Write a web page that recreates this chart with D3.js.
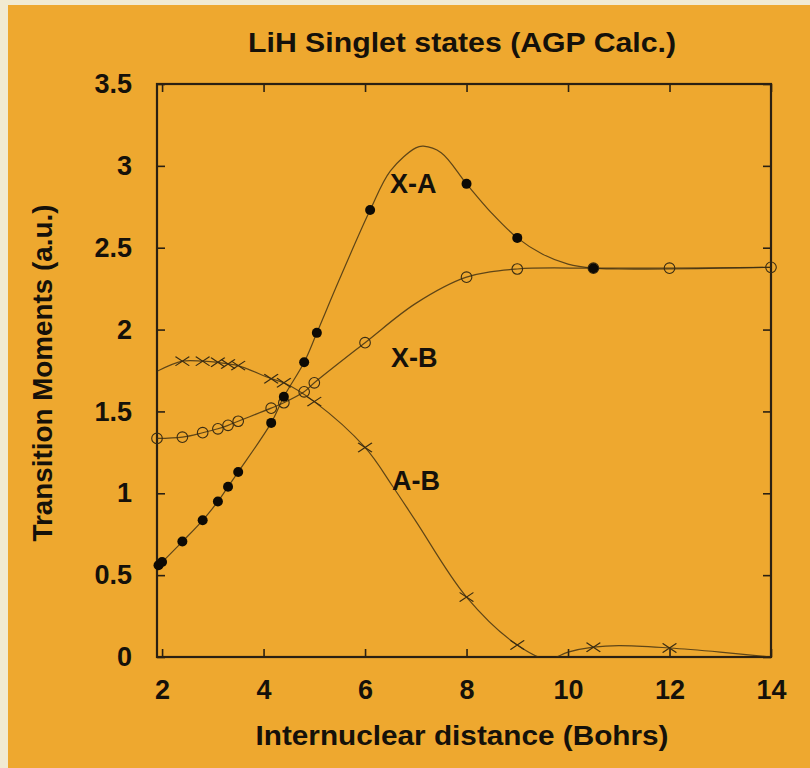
<!DOCTYPE html>
<html>
<head>
<meta charset="utf-8">
<script src="https://cdn.jsdelivr.net/npm/d3@7"></script>
<style>
    body { margin: 0; background: #f1ead2; }
    svg text {
        font-family: "Liberation Sans", Arial, Helvetica, sans-serif;
        font-weight: bold;
        fill: #15110a;
    }
</style>
</head>
<body>
<svg id="chart"></svg>
<script>
// tick values
const xTicks = [2, 4, 6, 8, 10, 12, 14];
const yTicks = [0, 0.5, 1, 1.5, 2, 2.5, 3, 3.5];

// X-A (filled circles)
const xaX = [1.93, 2.0, 2.4, 2.8, 3.1, 3.3, 3.5, 4.15, 4.4, 4.8, 5.05, 6.1, 8.0, 9.0, 10.5];
const xaY = [0.56, 0.58, 0.705, 0.835, 0.95, 1.04, 1.13, 1.43, 1.59, 1.80, 1.98, 2.73, 2.89, 2.56, 2.375];
// X-A fitted curve
const xaCurveX = [1.93, 2.0, 2.4, 2.8, 3.1, 3.3, 3.5, 4.15, 4.4, 4.8, 5.05, 5.5, 6.1, 6.5, 7.0, 7.15, 7.5, 8.0, 8.5, 9.0, 9.5, 10.0, 10.5, 11.0, 12.0, 13.0, 14.0];
const xaCurveY = [0.56, 0.58, 0.705, 0.835, 0.95, 1.04, 1.13, 1.43, 1.59, 1.80, 1.98, 2.31, 2.73, 2.97, 3.11, 3.12, 3.08, 2.89, 2.71, 2.56, 2.46, 2.40, 2.375, 2.37, 2.37, 2.375, 2.38];

// X-B (open circles)
const xbX = [1.9, 2.4, 2.8, 3.1, 3.3, 3.5, 4.15, 4.4, 4.8, 5.0, 6.0, 8.0, 9.0, 10.5, 12.0, 14.0];
const xbY = [1.335, 1.343, 1.37, 1.394, 1.415, 1.44, 1.52, 1.553, 1.62, 1.675, 1.92, 2.32, 2.37, 2.375, 2.375, 2.38];
const xbCurveX = [1.9, 2.4, 2.8, 3.1, 3.3, 3.5, 4.15, 4.4, 4.8, 5.0, 6.0, 7.0, 8.0, 9.0, 10.5, 12.0, 14.0];
const xbCurveY = [1.335, 1.343, 1.37, 1.394, 1.415, 1.44, 1.52, 1.553, 1.62, 1.675, 1.92, 2.16, 2.32, 2.37, 2.375, 2.375, 2.38];

// A-B (crosses)
const abX = [2.4, 2.8, 3.1, 3.3, 3.5, 4.15, 4.4, 5.0, 6.0, 8.0, 9.0, 10.5, 12.0];
const abY = [1.807, 1.807, 1.80, 1.79, 1.78, 1.70, 1.675, 1.56, 1.28, 0.366, 0.073, 0.06, 0.055];
const abCurveX = [1.9, 2.4, 2.8, 3.1, 3.3, 3.5, 4.15, 4.4, 5.0, 6.0, 6.55, 7.0, 8.0, 9.0, 9.6, 10.0, 10.5, 11.0, 12.0, 13.0, 14.0];
const abCurveY = [1.745, 1.807, 1.807, 1.80, 1.79, 1.78, 1.70, 1.675, 1.56, 1.28, 1.04, 0.83, 0.366, 0.073, -0.015, 0.03, 0.06, 0.07, 0.055, 0.03, 0.0];

const seriesLabels = [
    { text: "X-A", x: 390, y: 193 },
    { text: "X-B", x: 391, y: 367 },
    { text: "A-B", x: 392, y: 490 },
];

const zip = (xs, ys) => xs.map((x, i) => [x, ys[i]]);

class TransitionChart {

    constructor(_config) {
        this.config = {
            parentElement: _config.parentElement,
            containerWidth: 810,
            containerHeight: 768,
            margin: { top: 84, right: 39, bottom: 111, left: 157 },
        };
        this.initVis();
    }

    initVis() {
        const cfg = this.config;
        this.width = cfg.containerWidth - cfg.margin.left - cfg.margin.right;
        this.height = cfg.containerHeight - cfg.margin.top - cfg.margin.bottom;

        this.svg = d3.select(cfg.parentElement)
            .attr("width", cfg.containerWidth)
            .attr("height", cfg.containerHeight);

        // cream paper + orange panel
        this.svg.append("rect")
            .attr("width", cfg.containerWidth).attr("height", cfg.containerHeight)
            .attr("fill", "#f1ead2");
        this.svg.append("rect")
            .attr("x", 8).attr("y", 5)
            .attr("width", cfg.containerWidth - 8).attr("height", cfg.containerHeight - 5)
            .attr("fill", "#eea82f");

        this.chart = this.svg.append("g")
            .attr("transform", `translate(${cfg.margin.left}, ${cfg.margin.top})`);

        this.xScale = d3.scaleLinear().domain([1.9, 14]).range([0, this.width]);
        this.yScale = d3.scaleLinear().domain([0, 3.5]).range([this.height, 0]);

        this.chart.append("clipPath").attr("id", "plot-clip")
            .append("rect").attr("width", this.width).attr("height", this.height);

        this.renderVis();
    }

    renderVis() {
        const x = this.xScale, y = this.yScale;
        const ink = "#2a2012";

        // axes with inward ticks on all four sides
        const axes = [
            { axis: d3.axisBottom(x).tickValues(xTicks).tickSizeInner(-8).tickPadding(23), t: `translate(0,${this.height})`, labels: true },
            { axis: d3.axisTop(x).tickValues(xTicks).tickSizeInner(-8), t: "translate(0,0)", labels: false },
            { axis: d3.axisLeft(y).tickValues(yTicks).tickSizeInner(-8).tickPadding(25).tickFormat(d3.format("~g")), t: "translate(0,0)", labels: true },
            { axis: d3.axisRight(y).tickValues(yTicks).tickSizeInner(-8), t: `translate(${this.width},0)`, labels: false },
        ];
        axes.forEach((a) => {
            const g = this.chart.append("g").attr("transform", a.t).call(a.axis.tickSizeOuter(0));
            g.select(".domain").remove();
            // d3 axis sets its own font on the group; drop it so the css font applies
            g.attr("font-family", null).attr("font-size", null);
            g.selectAll(".tick line").attr("stroke", ink).attr("stroke-width", 1.6);
            if (a.labels) {
                g.selectAll(".tick text").attr("font-size", 27).attr("fill", "#15110a");
            } else {
                g.selectAll(".tick text").remove();
            }
        });

        this.chart.append("rect")
            .attr("width", this.width).attr("height", this.height)
            .attr("fill", "none").attr("stroke", ink).attr("stroke-width", 2.2);

        // fitted curves
        const line = d3.line()
            .x((d) => x(d[0]))
            .y((d) => y(d[1]))
            .curve(d3.curveCatmullRom.alpha(0.5));

        const curves = [zip(xaCurveX, xaCurveY), zip(xbCurveX, xbCurveY), zip(abCurveX, abCurveY)];
        this.chart.append("g").attr("clip-path", "url(#plot-clip)")
            .selectAll(".curve")
            .data(curves)
            .join("path")
            .attr("class", "curve")
            .attr("d", line)
            .attr("fill", "none")
            .attr("stroke", "#3a2c12")
            .attr("stroke-width", 1.2)
            .attr("stroke-opacity", 0.8);

        // markers
        this.chart.append("g").selectAll(".xb")
            .data(zip(xbX, xbY))
            .join("circle")
            .attr("class", "xb")
            .attr("cx", (d) => x(d[0])).attr("cy", (d) => y(d[1]))
            .attr("r", 5.3)
            .attr("fill", "none").attr("stroke", "#3a2c12").attr("stroke-width", 1.1);

        this.chart.append("g").selectAll(".ab")
            .data(zip(abX, abY))
            .join("path")
            .attr("class", "ab")
            .attr("transform", (d) => `translate(${x(d[0])},${y(d[1])}) scale(1.35,0.9)`)
            .attr("d", d3.symbol(d3.symbolX, 70))
            .attr("fill", "none").attr("stroke", "#3a2c12").attr("stroke-width", 1.1);

        this.chart.append("g").selectAll(".xa")
            .data(zip(xaX, xaY))
            .join("circle")
            .attr("class", "xa")
            .attr("cx", (d) => x(d[0])).attr("cy", (d) => y(d[1]))
            .attr("r", 5)
            .attr("fill", "#0d0a05");

        // series labels
        this.svg.selectAll(".series-label")
            .data(seriesLabels)
            .join("text")
            .attr("class", "series-label")
            .attr("x", (d) => d.x).attr("y", (d) => d.y)
            .attr("font-size", 27)
            .text((d) => d.text);

        // titles
        this.svg.append("text")
            .attr("x", 462).attr("y", 52)
            .attr("text-anchor", "middle")
            .attr("font-size", 28)
            .attr("textLength", 428).attr("lengthAdjust", "spacingAndGlyphs")
            .text("LiH Singlet states (AGP Calc.)");

        this.svg.append("text")
            .attr("x", 462).attr("y", 745)
            .attr("text-anchor", "middle")
            .attr("font-size", 28)
            .attr("textLength", 413).attr("lengthAdjust", "spacingAndGlyphs")
            .text("Internuclear distance (Bohrs)");

        this.svg.append("text")
            .attr("transform", "translate(52,373) rotate(-90)")
            .attr("text-anchor", "middle")
            .attr("font-size", 27)
            .attr("textLength", 337).attr("lengthAdjust", "spacingAndGlyphs")
            .text("Transition Moments (a.u.)");
    }
}

new TransitionChart({ parentElement: "#chart" });
</script>
</body>
</html>
